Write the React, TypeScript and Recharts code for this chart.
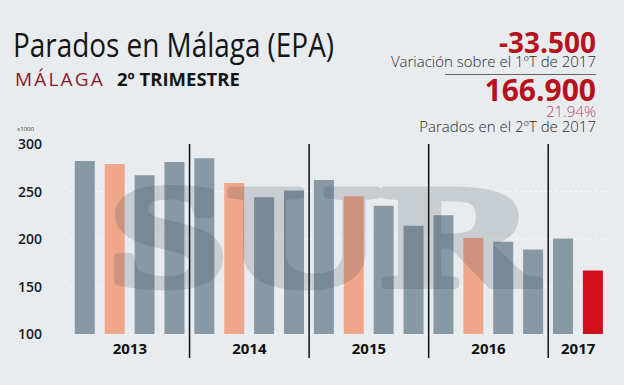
import React from 'react';
import { BarChart, Bar, XAxis, YAxis, CartesianGrid, Cell, ReferenceLine } from 'recharts';

const quarters = ['1T', '2T', '3T', '4T', '1T', '2T', '3T', '4T', '1T', '2T', '3T', '4T', '1T', '2T', '3T', '4T', '1T', '2T'];
const years = ['2013', '2013', '2013', '2013', '2014', '2014', '2014', '2014', '2015', '2015', '2015', '2015', '2016', '2016', '2016', '2016', '2017', '2017'];
const parados = [282, 279, 267, 281, 285, 259, 244, 251, 262, 245, 235, 214, 225, 201, 197, 189, 200.4, 166.9];
const yTicks = [100, 150, 200, 250, 300];
const yearLabelAt = ['2T 2013', '2T 2014', '2T 2015', '2T 2016', '1T 2017'];
const separatorsAfter = ['4T 2013', '4T 2014', '4T 2015', '4T 2016'];

const GRAY = '#8899a6';
const ORANGE = '#f0a68b';
const RED = '#d0101c';
const BG = '#e8ecef';

const data = quarters.map((q, i) => ({ name: `${q} ${years[i]}`, year: years[i], value: parados[i] }));
const colorFor = (i: number) => (i === data.length - 1 ? RED : quarters[i] === '2T' ? ORANGE : GRAY);

const font = "'Open Sans', 'Noto Sans', sans-serif";

const YTick = (props: any) => {
  const { y, payload } = props;
  return (
    <text x={18} y={y} dy={5} fontFamily={font} fontSize={14} fontWeight={600} fill="#1b1b1b">
      {payload.value}
    </text>
  );
};

const XTick = (props: any) => {
  const { x, y, payload, index } = props;
  if (!yearLabelAt.includes(payload.value)) return null;
  const d = data[index] || data.find((r) => r.name === payload.value);
  return (
    <text x={x + 15} y={y} dy={12} textAnchor="middle" fontFamily={font} fontSize={15} fontWeight={700} fill="#111">
      {d ? d.year : ''}
    </text>
  );
};

export default function App() {
  return (
    <div style={{ position: 'absolute', left: 0, top: 0, width: 624, height: 385, background: BG, overflow: 'hidden' }}>
      <BarChart
        width={624}
        height={385}
        data={data}
        margin={{ top: 144, right: 16, bottom: 21, left: 0 }}
        barCategoryGap="16%"
      >
        <CartesianGrid vertical={false} stroke="#f8fafb" strokeDasharray="2 3" />
        <YAxis
          type="number"
          domain={[100, 300]}
          ticks={yTicks}
          width={70}
          axisLine={false}
          tickLine={false}
          tick={<YTick />}
          allowDataOverflow
        />
        <XAxis dataKey="name" height={30} axisLine={false} tickLine={false} interval={0} tick={<XTick />} />
        <Bar dataKey="value" isAnimationActive={false}>
          {data.map((d, i) => (
            <Cell key={d.name} fill={colorFor(i)} />
          ))}
        </Bar>
        {separatorsAfter.map((s) => (
          <ReferenceLine
            key={s}
            position="end"
            segment={[{ x: s, y: 300 }, { x: s, y: 74.7 }]}
            stroke="#111"
            strokeWidth={1.5}
            ifOverflow="visible"
          />
        ))}
      </BarChart>
      <svg width={624} height={385} style={{ position: 'absolute', left: 0, top: 0, pointerEvents: 'none' }}>
        <g opacity={0.17}>
          <text
            x={108}
            y={286}
            fontFamily="'Liberation Serif', 'DejaVu Serif', serif"
            fontWeight={700}
            fontSize={146}
            textLength={428}
            lengthAdjust="spacingAndGlyphs"
            fill="#2d3a44"
            stroke="#2d3a44"
            strokeWidth={7}
            strokeLinejoin="round"
          >
            SUR
          </text>
        </g>
        <text x={13} y={57} fontFamily={font} fontSize={32} fill="#151515" textLength={321} lengthAdjust="spacingAndGlyphs">
          Parados en Málaga (EPA)
        </text>
        <text x={15} y={86} fontFamily={font} fontSize={19} fill="#8a1c2a" letterSpacing={2.2}>
          MÁLAGA
        </text>
        <text x={117} y={86} fontFamily={font} fontSize={18.5} fontWeight={700} fill="#151515">
          2º TRIMESTRE
        </text>
        <text x={17} y={131} fontFamily={font} fontSize={6} fill="#333">
          x1000
        </text>
        <text x={596} y={53} textAnchor="end" fontFamily={font} fontSize={28} fontWeight={700} fill="#b8111c">
          -33.500
        </text>
        <text x={596} y={67} textAnchor="end" fontFamily={font} fontSize={15} fontWeight={300} fill="#2a2a2a">
          Variación sobre el 1ºT de 2017
        </text>
        <line x1={445} x2={596} y1={74.5} y2={74.5} stroke="#666" strokeWidth={1} />
        <text x={596} y={101} textAnchor="end" fontFamily={font} fontSize={30} fontWeight={700} fill="#b8111c">
          166.900
        </text>
        <text x={596} y={117} textAnchor="end" fontFamily={font} fontSize={15} fontWeight={300} fill="#b0505e">
          21.94%
        </text>
        <text x={596} y={132} textAnchor="end" fontFamily={font} fontSize={15} fontWeight={300} fill="#2a2a2a">
          Parados en el 2ºT de 2017
        </text>
      </svg>
    </div>
  );
}
